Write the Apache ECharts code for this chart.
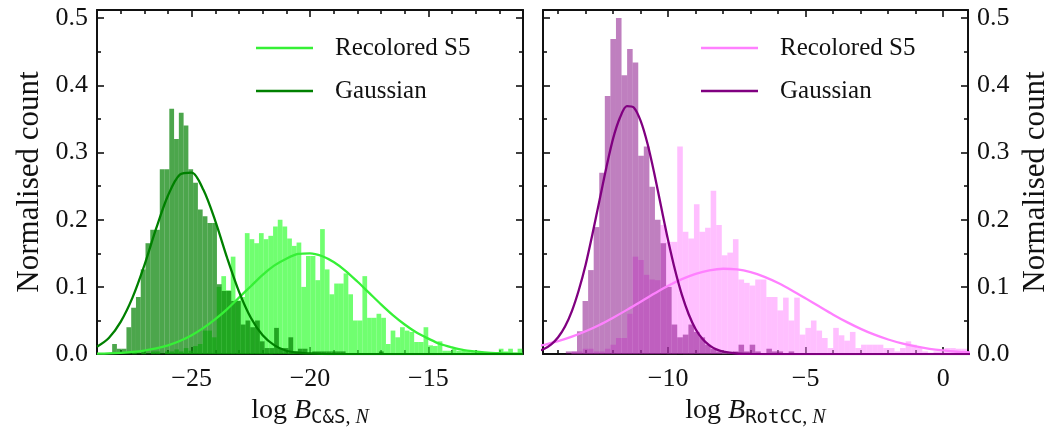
<!DOCTYPE html>
<html>
<head>
<meta charset="utf-8">
<script src="https://cdn.jsdelivr.net/npm/echarts@6/dist/echarts.min.js"></script>
<style>
  html, body { margin: 0; padding: 0; background: #fff; }
  #chart { width: 1053px; height: 433px; }
</style>
</head>
<body>
<div id="chart"></div>
<script>
// ---------- C&S panel ----------
// Gaussian-noise histogram (bin start, bin width, normalised counts)
const csGaussStart = -28.36;
const csGaussWidth = 0.2013;
const csGaussHeights = [
  0.015, 0.008, 0.008, 0.040, 0.069, 0.085, 0.126, 0.165, 0.185, 0.185,
  0.275, 0.275, 0.365, 0.320, 0.359, 0.340, 0.275, 0.255, 0.215, 0.205,
  0.195, 0.195, 0.104, 0.094, 0.094, 0.079, 0.079, 0.044, 0.050, 0.040,
  0.050, 0.019, 0.009, 0.009, 0.039, 0.009, 0.009, 0.025, 0.004, 0.008,
  0.008, 0.000, 0.004, 0.004, 0.004, 0.004, 0.004, 0.004, 0.004, 0.000,
  0.000, 0.000, 0.000, 0.000, 0.000, 0.000, 0.004
];
// Recolored S5 histogram
const csRecolStart = -27.72;
const csRecolWidth = 0.1987;
const csRecolHeights = [
  0.000, 0.004, 0.000, 0.004, 0.000, 0.004, 0.004, 0.000, 0.004, 0.004,
  0.007, 0.004, 0.009, 0.005, 0.012, 0.015, 0.035, 0.035, 0.025, 0.100,
  0.116, 0.095, 0.145, 0.080, 0.085, 0.180, 0.171, 0.165, 0.180, 0.171,
  0.176, 0.190, 0.200, 0.190, 0.172, 0.161, 0.166, 0.100, 0.146, 0.146,
  0.110, 0.186, 0.126, 0.089, 0.105, 0.105, 0.120, 0.089, 0.050, 0.050,
  0.116, 0.054, 0.054, 0.060, 0.054, 0.015, 0.035, 0.025, 0.040, 0.035,
  0.033, 0.018, 0.018, 0.040, 0.013, 0.012, 0.019, 0.005, 0.005, 0.008,
  0.005, 0.005, 0.004, 0.003, 0.003, 0.002, 0.002, 0.002, 0.002, 0.008,
  0.004, 0.008, 0.002, 0.008
];
// fitted curves
const csGaussCurveX = [-29, -28.5, -28, -27.5, -27, -26.5, -26, -25.5, -25, -24.5, -24, -23.5, -23, -22.5, -22, -21.5, -21, -20.5, -20, -19.5, -19, -17, -15, -13, -11];
const csGaussCurveY = [0.011, 0.024, 0.048, 0.084, 0.132, 0.187, 0.236, 0.267, 0.270, 0.244, 0.198, 0.143, 0.093, 0.054, 0.028, 0.013, 0.005, 0.002, 0.001, 0.0003, 0, 0, 0, 0, 0];
const csRecolCurveX = [-29, -28.5, -28, -27.5, -27, -26.5, -26, -25.5, -25, -24.5, -24, -23.5, -23, -22.5, -22, -21.5, -21, -20.5, -20, -19.5, -19, -18.5, -18, -17.5, -17, -16.5, -16, -15.5, -15, -14.5, -14, -13.5, -13, -12.5, -12, -11.5, -11];
const csRecolCurveY = [0.0006, 0.001, 0.0019, 0.0032, 0.0053, 0.0085, 0.0131, 0.0195, 0.0281, 0.039, 0.052, 0.067, 0.084, 0.101, 0.118, 0.132, 0.142, 0.149, 0.150, 0.146, 0.137, 0.124, 0.108, 0.091, 0.074, 0.058, 0.044, 0.032, 0.023, 0.015, 0.010, 0.006, 0.004, 0.002, 0.0014, 0.0008, 0.0004];

// ---------- RotCC panel ----------
const rotGaussStart = -13.72;
const rotGaussWidth = 0.2025;
const rotGaussHeights = [
  0.004, 0.004, 0.034, 0.079, 0.125, 0.189, 0.270, 0.384, 0.469, 0.500,
  0.415, 0.454, 0.434, 0.295, 0.309, 0.249, 0.200, 0.165, 0.100, 0.044,
  0.025, 0.029, 0.044, 0.033, 0.025, 0.014, 0.008, 0.004, 0.000, 0.000,
  0.004, 0.014, 0.004, 0.014, 0.004, 0.000, 0.008, 0.004, 0.004, 0.000,
  0.004
];
const rotRecolStart = -13.72;
const rotRecolWidth = 0.2025;
const rotRecolHeights = [
  0.000, 0.004, 0.004, 0.008, 0.008, 0.004, 0.004, 0.008, 0.014, 0.024,
  0.024, 0.060, 0.145, 0.140, 0.118, 0.111, 0.110, 0.192, 0.167, 0.167,
  0.309, 0.182, 0.172, 0.223, 0.182, 0.188, 0.243, 0.192, 0.147, 0.151,
  0.171, 0.111, 0.106, 0.102, 0.111, 0.111, 0.085, 0.085, 0.065, 0.084,
  0.050, 0.084, 0.029, 0.039, 0.050, 0.035, 0.024, 0.009, 0.039, 0.028,
  0.020, 0.033, 0.009, 0.014, 0.014, 0.014, 0.014, 0.009, 0.009, 0.004,
  0.009, 0.019, 0.014, 0.009, 0.004, 0.002, 0.004, 0.004, 0.009, 0.009,
  0.008, 0.008
];
const rotGaussCurveX = [-14.75, -14.5, -14.25, -14, -13.75, -13.5, -13.25, -13, -12.75, -12.5, -12.25, -12, -11.75, -11.5, -11.25, -11, -10.75, -10.5, -10.25, -10, -9.75, -9.5, -9.25, -9, -8.75, -8.5, -8.25, -8, -7.5, -7, -6, -4, -2, 0, 1];
const rotGaussCurveY = [0.0042, 0.008, 0.0145, 0.025, 0.041, 0.064, 0.095, 0.133, 0.179, 0.228, 0.277, 0.321, 0.352, 0.369, 0.367, 0.347, 0.313, 0.268, 0.218, 0.169, 0.125, 0.088, 0.059, 0.037, 0.0225, 0.013, 0.007, 0.0037, 0.0009, 0.0002, 0, 0, 0, 0, 0];
const rotRecolCurveX = [-15, -14.5, -14, -13.5, -13, -12.5, -12, -11.5, -11, -10.5, -10, -9.5, -9, -8.5, -8, -7.5, -7, -6.5, -6, -5.5, -5, -4.5, -4, -3.5, -3, -2.5, -2, -1.5, -1, -0.5, 0, 0.5, 1];
const rotRecolCurveY = [0.0099, 0.0139, 0.0192, 0.0259, 0.034, 0.0434, 0.0542, 0.0658, 0.078, 0.0901, 0.1016, 0.1115, 0.1194, 0.1247, 0.127, 0.126, 0.1219, 0.115, 0.1058, 0.0948, 0.0829, 0.0707, 0.0587, 0.0476, 0.0376, 0.0289, 0.0217, 0.0159, 0.0114, 0.0079, 0.0054, 0.0035, 0.0023];

// ---------- axes ----------
const csRange = [-29, -11];
const rotRange = [-14.55, 0.9];
const csMajorTicks = [-25, -20, -15];
const csMinorTicks = [-28, -27, -26, -24, -23, -22, -21, -19, -18, -17, -16, -14, -13, -12];
const rotMajorTicks = [-10, -5, 0];
const rotMinorTicks = [-14, -13, -12, -11, -9, -8, -7, -6, -4, -3, -2, -1];
const yRange = [0, 0.512];
const yMajorTicks = [0, 0.1, 0.2, 0.3, 0.4, 0.5];
const yMinorTicks = [0.05, 0.15, 0.25, 0.35, 0.45];

const legendText = {
  csRecol: 'Recolored S5', csGauss: 'Gaussian',
  rotRecol: 'Recolored S5', rotGauss: 'Gaussian'
};

const SERIF = "'Liberation Serif', 'DejaVu Serif', serif";
const MONO = "'DejaVu Sans Mono', 'Liberation Mono', monospace";
const INK = '#111';

function fmtX(v) { return v < 0 ? '\u2212' + Math.abs(v) : String(v); }
function fmtY(v) { return v.toFixed(1); }

// one set of ticks on one side of a panel; the major sets also draw the frame line
function tickAxis(gridIndex, range, position, ticks, len, frame, label, fmt) {
  return {
    type: 'value', gridIndex: gridIndex, position: position,
    min: range[0], max: range[1],
    axisLine: { show: frame, onZero: false, lineStyle: { color: INK, width: 2 } },
    axisTick: { show: true, inside: true, length: len, customValues: ticks, lineStyle: { color: INK, width: 1.6 } },
    axisLabel: label ? {
      show: true, customValues: ticks, formatter: fmt, color: INK,
      fontFamily: SERIF, fontSize: 26, margin: label.margin
    } : { show: false },
    splitLine: { show: false }
  };
}

function xName(sub) {
  return '{r|log }{i|B}{t|' + sub + '}{r2|, }{i2|N}';
}
const xNameRich = {
  r: { fontFamily: SERIF, fontSize: 28, lineHeight: 34, verticalAlign: 'middle', color: INK },
  i: { fontFamily: SERIF, fontSize: 28, fontStyle: 'italic', lineHeight: 34, verticalAlign: 'middle', color: INK },
  t: { fontFamily: MONO, fontSize: 19, lineHeight: 20, verticalAlign: 'bottom', color: INK },
  r2: { fontFamily: SERIF, fontSize: 20, lineHeight: 20, verticalAlign: 'bottom', color: INK },
  i2: { fontFamily: SERIF, fontSize: 20, fontStyle: 'italic', lineHeight: 20, verticalAlign: 'bottom', color: INK }
};

function withName(axis, name, gap, rot, rich) {
  axis.name = name;
  axis.nameLocation = 'middle';
  axis.nameGap = gap;
  if (rot !== undefined) axis.nameRotate = rot;
  axis.nameTextStyle = rich ? { rich: rich } : { fontFamily: SERIF, fontSize: 31, color: INK };
  return axis;
}

const xAxes = [
  withName(tickAxis(0, csRange, 'bottom', csMajorTicks, 7, true, { margin: 12 }, fmtX), xName('C&S'), 36, 0, xNameRich),
  tickAxis(0, csRange, 'bottom', csMinorTicks, 4, false),
  tickAxis(0, csRange, 'top', csMajorTicks, 7, true),
  tickAxis(0, csRange, 'top', csMinorTicks, 4, false),
  withName(tickAxis(1, rotRange, 'bottom', rotMajorTicks, 7, true, { margin: 12 }, fmtX), xName('RotCC'), 36, 0, xNameRich),
  tickAxis(1, rotRange, 'bottom', rotMinorTicks, 4, false),
  tickAxis(1, rotRange, 'top', rotMajorTicks, 7, true),
  tickAxis(1, rotRange, 'top', rotMinorTicks, 4, false)
];
const yAxes = [
  withName(tickAxis(0, yRange, 'left', yMajorTicks, 7, true, { margin: 9 }, fmtY), 'Normalised count', 52, 90),
  tickAxis(0, yRange, 'left', yMinorTicks, 4, false),
  tickAxis(0, yRange, 'right', yMajorTicks, 7, true),
  tickAxis(0, yRange, 'right', yMinorTicks, 4, false),
  withName(tickAxis(1, yRange, 'right', yMajorTicks, 7, true, { margin: 9 }, fmtY), 'Normalised count', 52, 90),
  tickAxis(1, yRange, 'right', yMinorTicks, 4, false),
  tickAxis(1, yRange, 'left', yMajorTicks, 7, true),
  tickAxis(1, yRange, 'left', yMinorTicks, 4, false)
];

function bins(start, width, heights) {
  return heights.map(function (h, i) { return [start + i * width, start + (i + 1) * width, h]; });
}
function barRenderer(fill) {
  return function (params, api) {
    const h = api.value(2);
    if (!h) return null;
    const a = api.coord([api.value(0), h]);
    const b = api.coord([api.value(1), 0]);
    return {
      type: 'rect',
      shape: { x: a[0], y: a[1], width: b[0] - a[0], height: b[1] - a[1] },
      style: { fill: fill }
    };
  };
}
function histSeries(id, xi, start, width, heights, fill) {
  return {
    type: 'custom', id: id, xAxisIndex: xi, yAxisIndex: xi,
    data: bins(start, width, heights),
    encode: { x: [0, 1], y: 2 },
    renderItem: barRenderer(fill),
    silent: true
  };
}
function curveSeries(name, xi, xs, ys, color) {
  return {
    type: 'line', name: name, xAxisIndex: xi, yAxisIndex: xi,
    data: xs.map(function (x, i) { return [x, ys[i]]; }),
    smooth: 0.3, showSymbol: false, symbol: 'none', clip: true,
    lineStyle: { color: color, width: 2.3 },
    itemStyle: { color: color },
    silent: true
  };
}
function legendFor(names, left) {
  return {
    data: names, left: left, top: 33, orient: 'vertical', padding: 0,
    icon: 'rect', itemWidth: 57, itemHeight: 2.5, itemGap: 13,
    selectedMode: false,
    formatter: function (n) { return legendText[n]; },
    textStyle: { fontFamily: SERIF, fontSize: 25, color: INK, lineHeight: 30, padding: [0, 0, 0, 17] }
  };
}

const chart = echarts.init(document.getElementById('chart'), null, { renderer: 'canvas' });
chart.setOption({
  animation: false,
  backgroundColor: '#fff',
  grid: [
    { left: 97, top: 10, width: 426, height: 349 },
    { left: 543, top: 10, width: 425, height: 349 }
  ],
  xAxis: xAxes,
  yAxis: yAxes,
  legend: [
    legendFor(['csRecol', 'csGauss'], 256),
    legendFor(['rotRecol', 'rotGauss'], 701)
  ],
  series: [
    histSeries('csRecolHist', 0, csRecolStart, csRecolWidth, csRecolHeights, 'rgba(51,255,51,0.7)'),
    histSeries('csGaussHist', 0, csGaussStart, csGaussWidth, csGaussHeights, 'rgba(0,128,0,0.7)'),
    curveSeries('csRecol', 0, csRecolCurveX, csRecolCurveY, '#36f036'),
    curveSeries('csGauss', 0, csGaussCurveX, csGaussCurveY, '#008000'),
    histSeries('rotRecolHist', 4, rotRecolStart, rotRecolWidth, rotRecolHeights, 'rgba(255,128,255,0.5)'),
    histSeries('rotGaussHist', 4, rotGaussStart, rotGaussWidth, rotGaussHeights, 'rgba(128,0,128,0.5)'),
    curveSeries('rotRecol', 4, rotRecolCurveX, rotRecolCurveY, '#ff80ff'),
    curveSeries('rotGauss', 4, rotGaussCurveX, rotGaussCurveY, '#800080')
  ]
});
</script>
</body>
</html>
